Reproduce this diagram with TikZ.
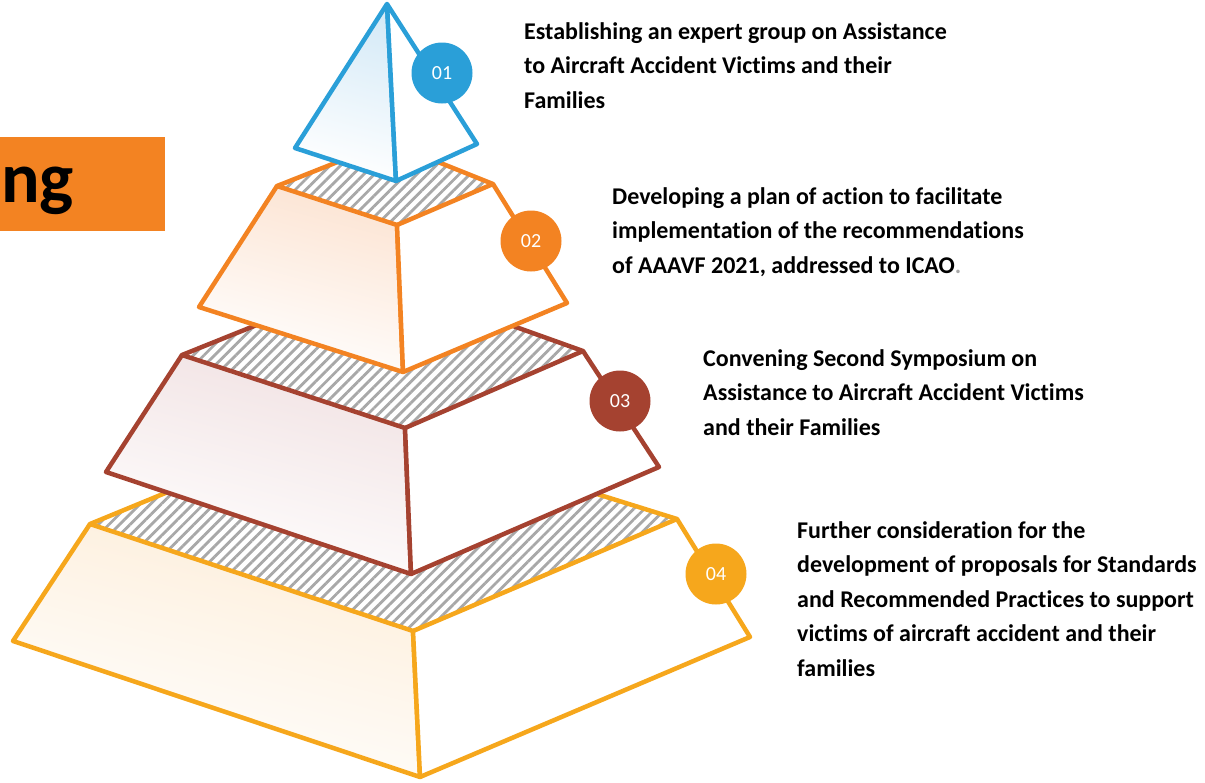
\documentclass[tikz,border=0pt]{standalone}
\usepackage{fontspec}
\setmainfont{Carlito}[Ligatures=NoCommon]
\usetikzlibrary{patterns.meta}
\definecolor{cblue}{HTML}{2A9FD8}
\definecolor{corange}{HTML}{F38322}
\definecolor{cbrown}{HTML}{A54230}
\definecolor{cyellow}{HTML}{F6A71C}
\definecolor{hatchgray}{HTML}{A8A8A8}
\definecolor{tblue}{HTML}{D5EAF7}
\definecolor{torange}{HTML}{FCE4D3}
\definecolor{tbrown}{HTML}{F1E2E3}
\definecolor{tyellow}{HTML}{FDEEDA}
\begin{document}
\begin{tikzpicture}[x=1pt,y=-1pt,line join=round,line cap=round,
  edge/.style={line width=4.5pt},
  hatch/.style={pattern={Lines[angle=45,distance=7.5pt,line width=2.8pt]},pattern color=hatchgray},
  lface/.style={top color=#1,bottom color=white,shading angle=-15},
  badge/.style={circle,minimum size=61pt,inner sep=0pt,text=white,font=\fontsize{20}{20}\selectfont},
  desc/.style={anchor=base west,align=left,inner sep=0pt,font=\fontsize{24}{34.5}\bfseries\selectfont}]
\useasboundingbox (0,0) rectangle (1205,782);
% title box
\fill[corange] (0,137) rectangle (165,231);
\node[anchor=base west,inner sep=0pt,font=\fontsize{72}{72}\bfseries\selectfont] (title) at (1,202) {ng};
% coordinates
\coordinate (T1a) at (387,4);  \coordinate (T1l) at (295,148); \coordinate (T1f) at (396,181); \coordinate (T1r) at (477,144);
\coordinate (T2tl) at (277,186); \coordinate (T2tf) at (397,225); \coordinate (T2tr) at (493,184); \coordinate (T2k) at (388,142);
\coordinate (T2bl) at (199,307); \coordinate (T2bf) at (403,372); \coordinate (T2br) at (567,303);
\coordinate (T3tl) at (182,355); \coordinate (T3tf) at (405,428); \coordinate (T3tr) at (583,351); \coordinate (T3k) at (376,277);
\coordinate (T3bl) at (106,472); \coordinate (T3bf) at (411,574); \coordinate (T3br) at (659,467);
\coordinate (T4tl) at (90,524); \coordinate (T4tf) at (413,631); \coordinate (T4tr) at (677,519); \coordinate (T4k) at (350,417);
\coordinate (T4bl) at (13,641); \coordinate (T4bf) at (420,777); \coordinate (T4br) at (750,637);
% tier 4
\path[hatch] (T4tl) -- (T4k) -- (T4tr) -- (T4tf) -- cycle;
\draw[edge,cyellow] (T4tl) -- (T4k) -- (T4tr);
\draw[edge,cyellow,lface=tyellow] (T4tl) -- (T4tf) -- (T4bf) -- (T4bl) -- cycle;
\draw[edge,cyellow,fill=white] (T4tf) -- (T4tr) -- (T4br) -- (T4bf) -- cycle;
\node[badge,fill=cyellow] (b4) at (716,574) {04};
% tier 3
\path[hatch] (T3tl) -- (T3k) -- (T3tr) -- (T3tf) -- cycle;
\draw[edge,cbrown] (T3tl) -- (T3k) -- (T3tr);
\draw[edge,cbrown,lface=tbrown] (T3tl) -- (T3tf) -- (T3bf) -- (T3bl) -- cycle;
\draw[edge,cbrown,fill=white] (T3tf) -- (T3tr) -- (T3br) -- (T3bf) -- cycle;
\node[badge,fill=cbrown] (b3) at (620,401) {03};
% tier 2
\path[hatch] (T2tl) -- (T2k) -- (T2tr) -- (T2tf) -- cycle;
\draw[edge,corange] (T2tl) -- (T2k) -- (T2tr);
\draw[edge,corange,lface=torange] (T2tl) -- (T2tf) -- (T2bf) -- (T2bl) -- cycle;
\draw[edge,corange,fill=white] (T2tf) -- (T2tr) -- (T2br) -- (T2bf) -- cycle;
\node[badge,fill=corange] (b2) at (531,241) {02};
% tier 1
\draw[edge,cblue,lface=tblue] (T1a) -- (T1f) -- (T1l) -- cycle;
\draw[edge,cblue,fill=white] (T1a) -- (T1r) -- (T1f) -- cycle;
\node[badge,fill=cblue] (b1) at (442,73) {01};
% descriptions
\node[desc] (t1) at (524,108) {Establishing an expert group on Assistance\\to Aircraft Accident Victims and their\\Families};
\node[desc] (t2) at (612,273) {Developing a plan of action to facilitate\\implementation of the recommendations\\of AAAVF 2021, addressed to ICAO{\color{hatchgray}.}};
\node[desc] (t3) at (703,435) {Convening Second Symposium on\\Assistance to Aircraft Accident Victims\\and their Families};
\node[desc] (t4) at (797,676) {Further consideration for the\\development of proposals for Standards\\and Recommended Practices to support\\victims of aircraft accident and their\\families};
\end{tikzpicture}
\end{document}
